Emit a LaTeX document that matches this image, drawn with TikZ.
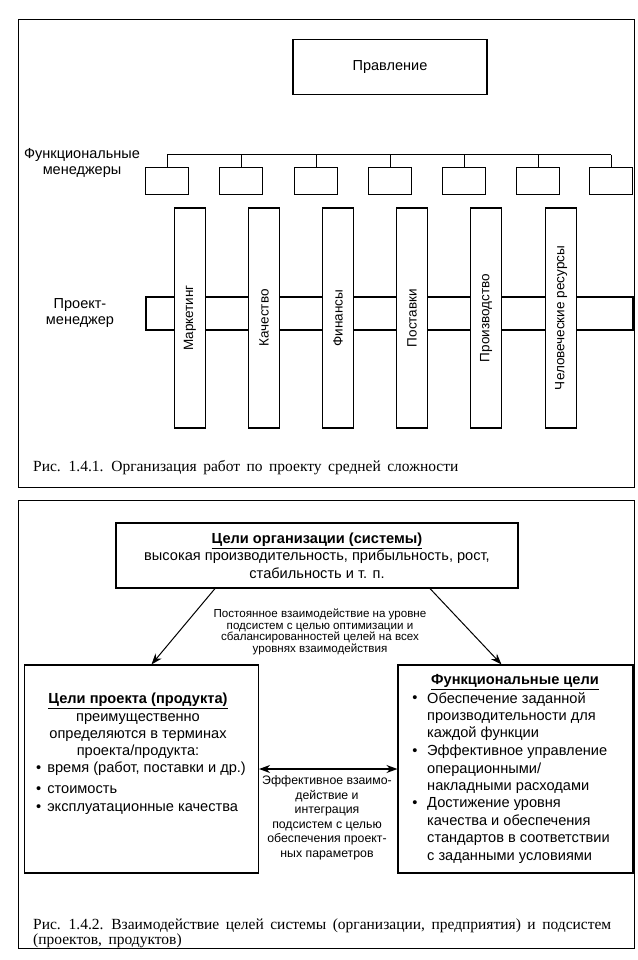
\documentclass[tikz,border=0pt]{standalone}
\usepackage{fontspec}
\setmainfont{Liberation Sans}
\newfontfamily\capfont{Liberation Serif}
\usetikzlibrary{arrows.meta}
\newcommand\wideskip{\spaceskip=6.5pt\relax}
\begin{document}
\begin{tikzpicture}[x=1pt,y=-1pt,
  panel/.style={draw, line width=0.9pt, inner sep=0},
  bx/.style={draw, line width=1.1pt, fill=white, inner sep=0},
  plain/.style={inner sep=0, align=center},
  fA/.style={font=\fontsize{14.5}{16.5}\selectfont},
  fV/.style={font=\fontsize{13.5}{16}\selectfont},
  fB/.style={font=\fontsize{14.6}{17.4}\selectfont},
  fS/.style={font=\fontsize{11.6}{11.7}\selectfont},
  fM/.style={font=\fontsize{12.3}{14.5}\selectfont},
  capt/.style={font=\capfont\fontsize{15.5}{15}\selectfont, anchor=base west, inner sep=0},
  arr/.style={line width=1pt, -{Stealth[length=11pt,width=8pt]}},
  darr/.style={line width=1.3pt, {Stealth[length=11pt,width=8pt]}-{Stealth[length=11pt,width=8pt]}},
]
\useasboundingbox (0,0) rectangle (637,960);
% ---------- panel 1 ----------
\node[panel, minimum width=616, minimum height=468] (pA) at (326,253) {};
\node[bx, fA, minimum width=194, minimum height=55] (board) at (390,67) {Правление};
\coordinate (bus) at (0,155);
\foreach \i/\x in {1/167,2/241,3/316,4/390,5/464,6/538,7/611}
  \node[bx, minimum width=43, minimum height=27] (fm\i) at (\x,181) {};
\draw[line width=1pt] (fm1.north |- bus) -- (fm7.north |- bus);
\foreach \i in {1,...,7}
  \draw[line width=1pt] (fm\i.north) -- (fm\i.north |- bus);
\node[plain, fA] (fmlabel) at (82,163) {Функциональные\\менеджеры};
\node[bx, minimum width=487, minimum height=33] (pm) at (389.5,313.5) {};
\node[plain, fA] (pmlabel) at (80,313) {Проект-\\менеджер};
\foreach \i/\x/\t in {1/190/Маркетинг,2/264/Качество,3/338/Финансы,4/412/Поставки,5/486/Производство,6/561/Человеческие ресурсы}
  \node[bx, fV, rotate=90, minimum width=220, minimum height=31] (v\i) at (\x,318) {\t};
\node[capt] (c1) at (33,471) {\wideskip Рис. 1.4.1. Организация работ по проекту средней сложности};
% ---------- panel 2 ----------
\node[panel, minimum width=616, minimum height=448] (pB) at (326,724) {};
\node[bx, minimum width=402, minimum height=65] (org) at (317,555.5) {};
\node[plain, fB] (orgtxt) at (org.center) {\underline{\textbf{Цели организации (системы)}}\\высокая производительность, прибыльность, рост,\\стабильность и т. п.};
\node[bx, minimum width=234, minimum height=208] (lb) at (141.5,769) {};
\node[bx, minimum width=235, minimum height=208] (rb) at (515.5,769) {};
\draw[arr] ([xshift=-102]org.south) -- ([xshift=10]lb.north);
\draw[arr] ([xshift=113]org.south) -- ([xshift=-14]rb.north);
\node[plain, fS] (midtop) at (320,632) {Постоянное взаимодействие на уровне\\подсистем с целью оптимизации и\\сбалансированностей целей на всех\\уровнях взаимодействия};
\draw[darr] (lb.east) -- (rb.west);
\node[plain, fM] (midbot) at (327,818) {Эффективное взаимо-\\действие и\\интеграция\\подсистем с целью\\обеспечения проект-\\ных параметров};
% left box content
\node[plain, fB] (lbhead) at (138,726) {\underline{\textbf{Цели проекта (продукта)}}\\преимущественно\\определяются в терминах\\проекта/продукта:};
\node[plain, fB, anchor=west] (lb1) at (36,769) {\textbullet\hspace{6pt}время (работ, поставки и др.)};
\node[plain, fB, anchor=west] (lb2) at (36,790) {\textbullet\hspace{6pt}стоимость};
\node[plain, fB, anchor=west] (lb3) at (36,809) {\textbullet\hspace{6pt}эксплуатационные качества};
% right box content
\node[plain, fB] (rbhead) at (515,682) {\underline{\textbf{Функциональные цели}}};
\node[plain, fB] (rbb1) at (415,699) {\textbullet};
\node[plain, fB, align=left, anchor=west] (rb1) at (427,716.5) {Обеспечение заданной\\производительности для\\каждой функции};
\node[plain, fB] (rbb2) at (415,752) {\textbullet};
\node[plain, fB, align=left, anchor=west] (rb2) at (427,769.5) {Эффективное управление\\операционными/\\накладными расходами};
\node[plain, fB] (rbb3) at (415,804) {\textbullet};
\node[plain, fB, align=left, anchor=west] (rb3) at (427,830.5) {Достижение уровня\\качества и обеспечения\\стандартов в соответствии\\с заданными условиями};
\node[capt] (c2a) at (33,929) {\wideskip Рис. 1.4.2. Взаимодействие целей системы (организации, предприятия) и подсистем};
\node[capt] (c2b) at (33,944) {\wideskip (проектов, продуктов)};
\end{tikzpicture}
\end{document}
